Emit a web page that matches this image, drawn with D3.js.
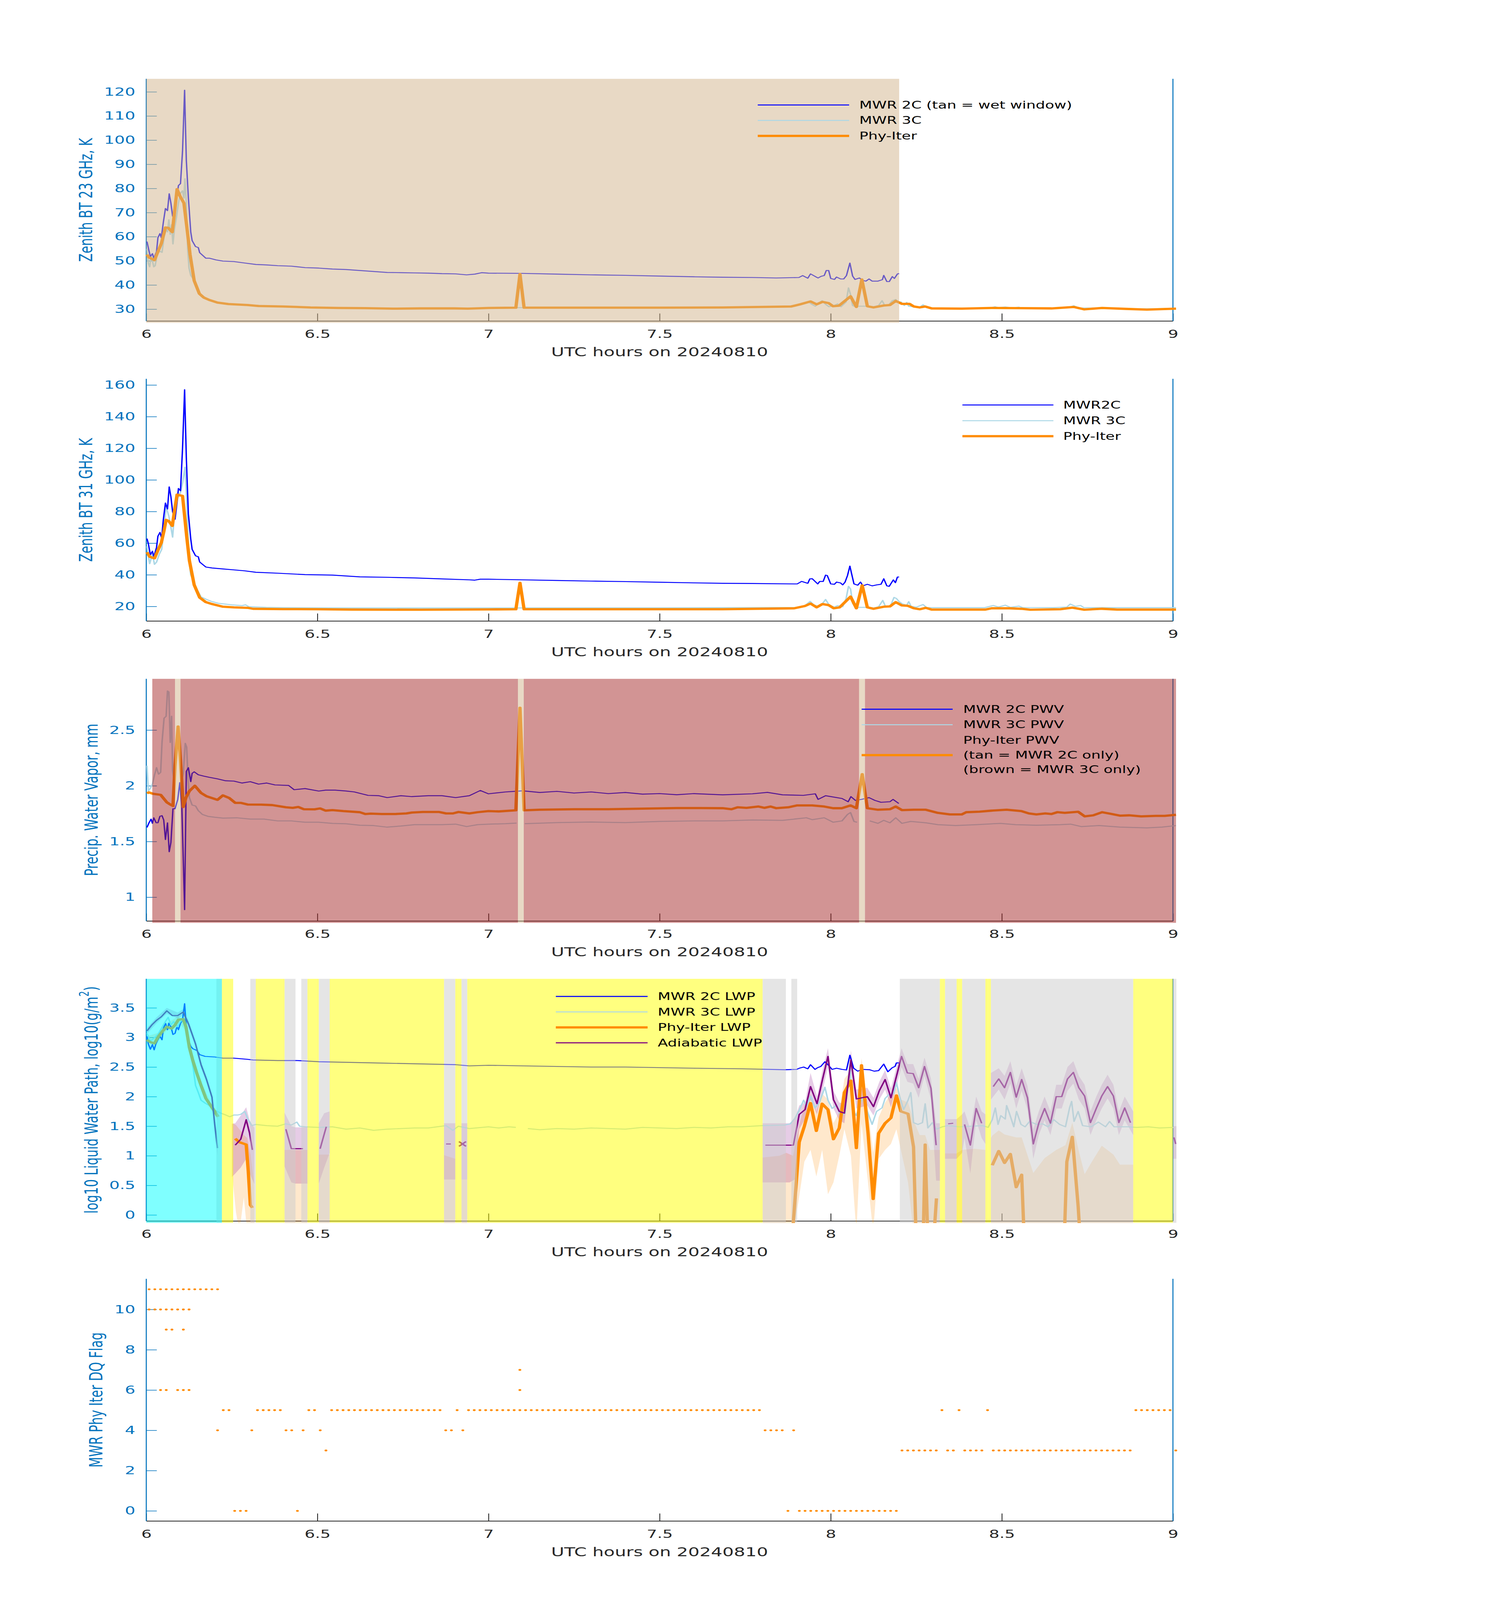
<!DOCTYPE html>
<html>
<head>
<meta charset="utf-8">
<script src="https://cdn.jsdelivr.net/npm/d3@7"></script>
<style>
  html, body { margin: 0; background: #fff; overflow: hidden; }
  svg { display: block; }
  text { font-family: "DejaVu Sans", sans-serif; }
</style>
</head>
<body>
<svg id="chart"></svg>
<script>
// ---------------- data (hours UTC, value) ----------------
// null = gap in the series

// Panel 1: zenith BT 23 GHz, K
var bt23_2c = [[6.002,58.0],[6.008,54.1],[6.012,51.8],[6.018,53.0],[6.022,51.1],[6.030,53.8],[6.034,59.6],[6.040,61.3],[6.044,59.6],[6.050,66.1],[6.056,71.7],[6.062,70.8],[6.067,77.8],[6.072,73.9],[6.077,68.5],[6.082,67.7],[6.088,74.7],[6.094,81.2],[6.100,82.0],[6.106,95.6],[6.112,120.7],[6.117,91.7],[6.123,76.2],[6.130,61.9],[6.134,58.4],[6.144,55.9],[6.152,55.5],[6.156,53.4],[6.174,51.1],[6.184,51.1],[6.204,50.4],[6.224,49.9],[6.256,49.7],[6.288,49.1],[6.320,48.5],[6.352,48.3],[6.384,48.0],[6.424,47.8],[6.464,47.2],[6.504,47.0],[6.544,46.6],[6.584,46.4],[6.624,46.0],[6.664,45.6],[6.704,45.2],[6.744,45.1],[6.784,45.0],[6.824,44.9],[6.864,44.7],[6.904,44.6],[6.936,44.2],[6.960,44.5],[6.980,45.1],[7.000,44.9],[7.100,44.8],[7.200,44.5],[7.300,44.2],[7.400,44.0],[7.500,43.7],[7.600,43.4],[7.684,43.2],[7.771,43.1],[7.841,42.9],[7.907,43.1],[7.918,43.9],[7.933,42.8],[7.941,44.6],[7.955,43.5],[7.963,42.9],[7.972,43.6],[7.981,43.9],[7.987,46.0],[7.994,46.0],[8.000,42.7],[8.011,42.3],[8.017,43.3],[8.029,42.5],[8.038,42.5],[8.046,43.9],[8.056,49.1],[8.064,43.7],[8.071,42.3],[8.084,42.9],[8.093,41.9],[8.103,41.6],[8.112,42.5],[8.121,41.6],[8.138,41.6],[8.151,42.2],[8.155,44.0],[8.164,41.4],[8.171,41.4],[8.180,43.5],[8.186,42.7],[8.195,44.6],[8.200,44.7]]
var bt23_3c = [[6.002,55],[6.006,49],[6.010,47.5],[6.014,52],[6.018,50],[6.022,47.5],[6.026,48],[6.032,53],[6.040,54],[6.046,53.5],[6.052,60],[6.058,63],[6.062,62],[6.066,67],[6.070,61],[6.074,65],[6.078,57],[6.082,63],[6.088,68],[6.094,74],[6.100,78],[6.106,79],[6.110,76],[6.113,84],[6.117,74],[6.121,55],[6.125,47],[6.130,44],[6.135,43],[6.142,41],[6.150,38],[6.160,36],[6.175,34.5],[6.190,33.5],[6.210,32.6],[6.240,32.0],[6.300,31.7],[6.400,31.1],[6.500,30.7],[6.600,30.5],[6.700,30.3],[6.800,30.4],[6.900,30.3],[7.000,30.5],[7.080,30.6],[7.105,30.6],[7.300,30.6],[7.500,30.7],[7.700,30.8],[7.850,31.0],[7.900,31.5],[7.920,32.2],[7.935,33.0],[7.945,32.0],[7.955,31.2],[7.965,32.5],[7.975,33.5],[7.985,32.0],[7.995,31.0],[8.010,31.5],[8.020,32.2],[8.030,31.0],[8.045,33.0],[8.052,38.8],[8.058,36.0],[8.064,31.5],[8.072,31.0],[8.080,31.2],[8.110,31.2],[8.125,31.0],[8.140,31.5],[8.150,33.5],[8.158,31.5],[8.170,31.8],[8.180,33.5],[8.190,34.0],[8.198,32.5],[8.205,33.0],[8.215,31.5],[8.222,32.8],[8.228,31.2],[8.240,31.0],[8.260,30.8],[8.270,31.8],[8.280,30.6],[8.300,30.5],[8.400,30.4],[8.470,30.6],[8.480,31.0],[8.490,30.6],[8.510,30.9],[8.530,30.5],[8.550,30.8],[8.560,30.4],[8.650,30.4],[8.700,30.9],[8.710,31.4],[8.720,30.8],[8.730,30.5],[8.800,30.4],[8.900,30.1],[9.009,30.3]]
var bt23_phy = [[6.002,52.6],[6.008,51.4],[6.024,50.3],[6.034,53.8],[6.044,57.2],[6.056,63.8],[6.064,63.7],[6.076,61.9],[6.090,79.7],[6.098,77.0],[6.110,73.9],[6.118,64.6],[6.128,52.6],[6.140,41.8],[6.155,36.4],[6.168,34.8],[6.184,33.8],[6.208,32.7],[6.240,32.1],[6.296,31.7],[6.328,31.3],[6.400,31.1],[6.480,30.7],[6.560,30.5],[6.640,30.4],[6.720,30.2],[6.800,30.3],[6.900,30.3],[6.940,30.2],[7.000,30.5],[7.080,30.6],[7.092,44.5],[7.104,30.6],[7.300,30.6],[7.500,30.6],[7.684,30.7],[7.885,31.1],[7.911,32.0],[7.941,33.2],[7.959,32.0],[7.976,33.0],[7.994,32.5],[8.007,31.2],[8.024,31.4],[8.058,35.3],[8.075,30.9],[8.091,42.3],[8.107,31.2],[8.125,30.7],[8.155,31.5],[8.173,31.7],[8.190,33.4],[8.208,32.2],[8.230,32.2],[8.243,31.1],[8.260,30.7],[8.276,31.1],[8.295,30.3],[8.383,30.2],[8.470,30.5],[8.557,30.4],[8.645,30.3],[8.710,30.9],[8.741,29.9],[8.793,30.5],[8.863,30.1],[8.924,29.8],[9.009,30.2]]
var wetWindow = [[6.0, 8.2]]

// Panel 2: zenith BT 31 GHz, K
var bt31_2c = [[6.002,62.9],[6.006,59.7],[6.012,52.6],[6.018,54.9],[6.022,51.4],[6.030,57.3],[6.034,64.4],[6.040,66.8],[6.045,63.2],[6.050,75.1],[6.056,85.4],[6.062,81.6],[6.067,95.6],[6.072,89.3],[6.077,79.8],[6.084,75.1],[6.090,85.7],[6.094,94.6],[6.100,93.1],[6.106,120.1],[6.112,157.0],[6.117,114.2],[6.123,78.6],[6.130,62.6],[6.134,56.1],[6.144,52.0],[6.152,51.4],[6.156,48.1],[6.174,44.9],[6.192,44.3],[6.224,43.7],[6.256,43.1],[6.288,42.5],[6.320,41.6],[6.384,41.0],[6.464,40.1],[6.544,39.8],[6.624,38.7],[6.704,38.4],[6.784,38.0],[6.864,37.4],[6.944,36.8],[6.960,36.6],[6.976,37.2],[7.000,37.2],[7.100,36.8],[7.200,36.4],[7.300,36.0],[7.400,35.7],[7.500,35.3],[7.600,34.9],[7.684,34.6],[7.771,34.5],[7.902,34.2],[7.915,35.8],[7.933,34.6],[7.939,37.4],[7.946,37.5],[7.962,34.2],[7.968,35.8],[7.978,35.8],[7.985,39.8],[7.990,39.5],[8.000,34.2],[8.011,34.0],[8.017,35.4],[8.029,34.8],[8.035,33.6],[8.042,35.4],[8.049,39.5],[8.056,45.5],[8.061,40.7],[8.068,34.2],[8.079,33.4],[8.087,35.4],[8.094,33.0],[8.107,34.0],[8.121,33.0],[8.134,33.6],[8.147,34.0],[8.155,37.5],[8.164,33.0],[8.171,32.7],[8.183,36.8],[8.189,35.0],[8.195,38.6],[8.200,38.6]]
var bt31_3c = [[6.002,58],[6.006,52],[6.010,47],[6.014,50],[6.018,53],[6.024,46.6],[6.030,48],[6.038,53],[6.045,56],[6.050,66],[6.055,76],[6.058,84],[6.062,80],[6.066,77],[6.072,70],[6.077,63.8],[6.081,75],[6.088,85],[6.094,90],[6.100,92],[6.106,98],[6.113,108],[6.118,88],[6.122,65],[6.126,47],[6.130,40],[6.140,35],[6.150,30],[6.160,26],[6.175,24.5],[6.190,23.2],[6.210,22.0],[6.250,21.0],[6.280,20.5],[6.290,21.0],[6.300,19.8],[6.350,19.4],[6.400,19.2],[6.500,19.1],[6.600,19.0],[6.800,19.0],[7.000,19.0],[7.300,19.1],[7.500,19.1],[7.684,19.2],[7.900,19.3],[7.925,20.5],[7.940,23.2],[7.950,21.0],[7.965,20.0],[7.975,21.5],[7.985,24.4],[7.995,21.0],[8.010,19.5],[8.020,20.5],[8.035,19.8],[8.045,25.0],[8.052,32.7],[8.058,31.0],[8.064,22.0],[8.072,19.5],[8.080,19.4],[8.110,19.4],[8.125,19.0],[8.140,19.8],[8.152,23.8],[8.160,20.0],[8.175,20.5],[8.185,25.7],[8.192,25.0],[8.200,23.0],[8.210,21.5],[8.222,20.8],[8.228,23.0],[8.235,20.0],[8.250,19.5],[8.270,21.2],[8.280,19.3],[8.300,19.2],[8.450,19.2],[8.475,20.6],[8.490,19.6],[8.510,20.8],[8.525,19.4],[8.550,20.2],[8.560,19.3],[8.650,19.2],[8.690,19.6],[8.700,21.5],[8.715,20.0],[8.730,20.6],[8.740,19.2],[8.850,19.2],[9.009,19.2]]
var bt31_phy = [[6.002,54.3],[6.010,51.4],[6.024,50.4],[6.034,55.5],[6.044,60.3],[6.052,68.0],[6.058,74.7],[6.066,73.9],[6.076,70.9],[6.082,79.8],[6.090,90.7],[6.106,89.9],[6.118,64.4],[6.126,49.0],[6.140,33.6],[6.156,25.6],[6.174,22.7],[6.192,21.5],[6.224,19.8],[6.256,19.4],[6.296,19.1],[6.312,18.5],[6.400,18.3],[6.500,18.2],[6.600,18.0],[6.800,17.9],[7.000,18.1],[7.080,18.2],[7.092,34.9],[7.104,18.2],[7.300,18.2],[7.500,18.2],[7.684,18.2],[7.893,18.8],[7.924,20.2],[7.941,21.8],[7.959,19.4],[7.976,21.5],[7.994,20.8],[8.009,18.8],[8.026,19.4],[8.058,26.2],[8.075,18.8],[8.092,33.3],[8.107,19.4],[8.125,18.5],[8.155,19.8],[8.173,20.0],[8.190,22.7],[8.208,20.6],[8.225,20.4],[8.243,18.8],[8.260,18.2],[8.278,19.1],[8.295,18.0],[8.383,18.0],[8.452,18.0],[8.470,18.8],[8.522,18.8],[8.557,18.5],[8.583,17.9],[8.671,18.2],[8.706,19.2],[8.741,17.9],[8.793,18.5],[8.837,18.0],[9.009,18.0]]

// Panel 3: precipitable water vapor, mm
var pwv_2c = [[6.002,1.626],[6.008,1.668],[6.014,1.701],[6.018,1.663],[6.022,1.713],[6.029,1.668],[6.034,1.668],[6.040,1.727],[6.046,1.732],[6.051,1.693],[6.056,1.517],[6.062,1.668],[6.067,1.408],[6.072,1.492],[6.078,1.794],[6.084,1.794],[6.092,1.878],[6.098,2.029],[6.104,1.810],[6.112,0.888],[6.117,2.129],[6.123,2.163],[6.130,2.037],[6.134,2.112],[6.140,2.126],[6.152,2.099],[6.168,2.087],[6.184,2.076],[6.208,2.062],[6.232,2.045],[6.256,2.042],[6.280,2.025],[6.304,2.037],[6.328,2.015],[6.352,2.025],[6.376,2.008],[6.416,2.003],[6.432,1.965],[6.464,1.975],[6.504,1.953],[6.524,1.961],[6.552,1.961],[6.584,1.953],[6.608,1.945],[6.648,1.914],[6.680,1.911],[6.704,1.894],[6.744,1.911],[6.776,1.903],[6.824,1.911],[6.864,1.911],[6.904,1.894],[6.944,1.911],[6.976,1.958],[7.000,1.928],[7.050,1.945],[7.100,1.955],[7.150,1.940],[7.200,1.950],[7.250,1.935],[7.300,1.945],[7.350,1.930],[7.400,1.940],[7.450,1.925],[7.500,1.930],[7.550,1.920],[7.600,1.930],[7.684,1.919],[7.771,1.928],[7.815,1.941],[7.859,1.919],[7.920,1.914],[7.955,1.928],[7.963,1.878],[7.985,1.911],[8.033,1.886],[8.051,1.857],[8.059,1.903],[8.072,1.869],[8.090,1.878],[8.112,1.894],[8.129,1.869],[8.147,1.852],[8.173,1.857],[8.182,1.878],[8.199,1.841]]
var pwv_3c = [[6.002,2.180],[6.006,1.953],[6.012,1.978],[6.018,2.015],[6.024,2.096],[6.030,2.163],[6.036,2.104],[6.042,2.121],[6.046,2.389],[6.052,2.607],[6.058,2.624],[6.062,2.851],[6.066,2.842],[6.070,2.389],[6.074,2.624],[6.077,2.138],[6.082,2.03],null,[6.104,2.05],[6.108,2.112],[6.114,2.381],[6.118,2.347],[6.122,2.062],[6.126,1.894],[6.134,1.827],[6.144,1.819],[6.152,1.777],[6.164,1.743],[6.180,1.726],[6.200,1.718],[6.224,1.710],[6.264,1.713],[6.304,1.701],[6.344,1.701],[6.384,1.685],[6.424,1.685],[6.464,1.673],[6.504,1.673],[6.544,1.663],[6.584,1.659],[6.624,1.646],[6.664,1.643],[6.704,1.629],[6.744,1.639],[6.784,1.651],[6.824,1.651],[6.864,1.651],[6.904,1.656],[6.936,1.634],[6.968,1.651],[7.000,1.656],[7.050,1.660],[7.082,1.665],null,[7.106,1.660],[7.200,1.670],[7.300,1.675],[7.400,1.670],[7.500,1.680],[7.600,1.685],[7.684,1.685],[7.771,1.693],[7.859,1.690],[7.929,1.713],[7.946,1.696],[7.981,1.713],[8.007,1.673],[8.033,1.685],[8.049,1.743],[8.058,1.760],[8.068,1.680],[8.077,1.673],null,[8.114,1.685],[8.138,1.663],[8.155,1.690],[8.173,1.668],[8.190,1.713],[8.208,1.663],[8.234,1.680],[8.278,1.668],[8.313,1.651],[8.365,1.643],[8.426,1.651],[8.496,1.663],[8.540,1.651],[8.601,1.646],[8.671,1.651],[8.701,1.656],[8.732,1.634],[8.784,1.643],[8.845,1.629],[8.924,1.622],[8.968,1.629],[9.009,1.643]]
var pwv_phy = [[6.002,1.933],[6.008,1.941],[6.020,1.928],[6.042,1.919],[6.060,1.852],[6.068,1.836],[6.078,1.819],[6.084,2.180],[6.093,2.532],[6.100,2.230],[6.108,1.810],[6.116,1.894],[6.126,1.953],[6.142,2.000],[6.160,1.936],[6.176,1.906],[6.208,1.874],[6.224,1.914],[6.242,1.891],[6.260,1.847],[6.276,1.847],[6.296,1.832],[6.336,1.831],[6.368,1.827],[6.408,1.807],[6.428,1.802],[6.444,1.810],[6.460,1.790],[6.492,1.789],[6.508,1.797],[6.524,1.777],[6.544,1.782],[6.576,1.773],[6.624,1.763],[6.640,1.747],[6.656,1.750],[6.688,1.747],[6.728,1.747],[6.760,1.752],[6.776,1.760],[6.808,1.765],[6.856,1.765],[6.876,1.752],[6.896,1.752],[6.912,1.765],[6.944,1.752],[6.968,1.763],[7.000,1.773],[7.030,1.770],[7.080,1.780],[7.092,2.700],[7.104,1.780],[7.150,1.785],[7.250,1.790],[7.350,1.790],[7.450,1.795],[7.550,1.800],[7.620,1.800],[7.684,1.799],[7.710,1.790],[7.728,1.807],[7.754,1.802],[7.789,1.814],[7.806,1.802],[7.824,1.814],[7.841,1.799],[7.876,1.807],[7.902,1.824],[7.946,1.824],[7.981,1.814],[8.007,1.799],[8.033,1.799],[8.058,1.824],[8.075,1.799],[8.092,2.104],[8.107,1.799],[8.138,1.785],[8.173,1.790],[8.190,1.814],[8.208,1.782],[8.243,1.785],[8.278,1.785],[8.313,1.757],[8.348,1.743],[8.383,1.743],[8.396,1.763],[8.435,1.768],[8.470,1.777],[8.514,1.785],[8.557,1.773],[8.579,1.752],[8.601,1.743],[8.627,1.752],[8.645,1.747],[8.662,1.763],[8.684,1.757],[8.723,1.767],[8.742,1.726],[8.767,1.735],[8.793,1.763],[8.819,1.748],[8.845,1.732],[8.872,1.735],[8.907,1.726],[8.950,1.730],[8.976,1.730],[9.009,1.740]]
var pwvTan = [[6.084, 6.100], [7.086, 7.103], [8.083, 8.100]]
var pwvBrown = [[6.0176, 6.084], [6.100, 7.086], [7.103, 8.083], [8.100, 9.009]]

// Panel 4: log10 liquid water path
var lwp_2c = [[6.002,3.02],[6.006,2.89],[6.012,2.80],[6.018,2.88],[6.023,2.79],[6.028,2.89],[6.034,2.96],[6.040,3.02],[6.046,2.96],[6.050,3.15],[6.056,3.24],[6.062,3.13],[6.066,3.24],[6.072,3.18],[6.078,3.05],[6.084,3.07],[6.090,3.19],[6.094,3.13],[6.100,3.24],[6.106,3.30],[6.112,3.57],[6.117,3.18],[6.123,2.96],[6.130,2.85],[6.136,2.81],[6.148,2.78],[6.156,2.71],[6.172,2.68],[6.200,2.67],[6.224,2.65],[6.256,2.65],[6.296,2.63],[6.312,2.62],[6.384,2.61],[6.440,2.61],[6.504,2.59],[6.584,2.58],[6.664,2.57],[6.744,2.56],[6.824,2.55],[6.904,2.54],[6.944,2.52],[7.000,2.53],[7.100,2.52],[7.200,2.51],[7.300,2.50],[7.400,2.50],[7.500,2.49],[7.600,2.48],[7.741,2.47],[7.866,2.455],[7.900,2.46],[7.908,2.48],[7.921,2.50],[7.933,2.47],[7.941,2.54],[7.954,2.46],[7.962,2.49],[7.971,2.51],[7.983,2.59],[7.992,2.54],[8.004,2.46],[8.017,2.48],[8.033,2.46],[8.046,2.45],[8.056,2.70],[8.067,2.48],[8.079,2.43],[8.092,2.46],[8.113,2.455],[8.127,2.43],[8.140,2.44],[8.155,2.55],[8.167,2.42],[8.180,2.49],[8.188,2.51],[8.192,2.57],[8.199,2.57]]
var lwp_3c = [[6.002,3.07],[6.012,2.94],[6.023,2.99],[6.034,3.05],[6.044,3.15],[6.056,3.27],[6.064,3.34],[6.072,3.21],[6.080,3.27],[6.090,3.18],[6.100,3.27],[6.108,3.30],[6.114,3.24],[6.120,3.02],[6.126,2.83],[6.132,2.67],[6.138,2.45],[6.144,2.19],[6.152,2.07],[6.160,1.94],[6.172,1.89],[6.184,1.85],[6.196,1.78],[6.208,1.75],[6.218,1.72],[6.232,1.69],[6.244,1.66],[6.256,1.69],[6.268,1.69],[6.276,1.70],[6.288,1.75],[6.296,1.63],[6.308,1.51],[6.320,1.53],[6.352,1.51],[6.384,1.50],[6.408,1.54],[6.424,1.52],[6.440,1.57],[6.448,1.50],[6.464,1.49],[6.504,1.48],[6.544,1.49],[6.584,1.45],[6.624,1.47],[6.664,1.43],[6.704,1.45],[6.744,1.46],[6.784,1.47],[6.824,1.47],[6.876,1.51],[6.896,1.43],[6.912,1.50],[6.944,1.46],[7.000,1.49],[7.030,1.47],[7.060,1.49],[7.080,1.48],null,[7.115,1.46],[7.150,1.44],[7.200,1.46],[7.250,1.45],[7.300,1.47],[7.350,1.46],[7.400,1.45],[7.450,1.48],[7.500,1.47],[7.550,1.46],[7.600,1.48],[7.650,1.47],[7.700,1.49],[7.741,1.49],[7.799,1.51],[7.866,1.52],[7.882,1.54],[7.895,1.63],[7.908,1.77],[7.921,1.94],[7.929,1.83],[7.941,2.01],[7.954,1.81],[7.967,1.90],[7.983,2.16],[7.992,1.94],[8.004,1.80],[8.017,1.86],[8.029,1.67],[8.042,1.72],[8.056,2.55],[8.063,1.78],[8.075,1.68],[8.092,1.99],[8.109,1.72],[8.121,1.53],[8.134,1.75],[8.150,1.81],[8.159,1.97],[8.171,2.04],[8.184,2.05],[8.192,2.24],[8.201,2.01],[8.213,1.78],[8.226,1.94],[8.234,2.07],[8.242,1.56],[8.255,1.53],[8.268,1.56],[8.276,1.88],[8.284,1.47],[8.297,1.56],[8.309,1.45],[8.326,1.49],[8.343,1.51],[8.376,1.49],[8.410,1.50],[8.443,1.51],[8.460,1.48],[8.472,1.61],[8.481,1.81],[8.489,1.53],[8.497,1.68],[8.510,1.62],[8.514,1.85],[8.522,1.72],[8.535,1.49],[8.543,1.75],[8.556,1.53],[8.568,1.49],[8.581,1.58],[8.602,1.53],[8.619,1.54],[8.635,1.49],[8.652,1.61],[8.669,1.53],[8.686,1.49],[8.698,1.81],[8.704,1.92],[8.711,1.58],[8.723,1.75],[8.736,1.51],[8.761,1.49],[8.782,1.57],[8.803,1.49],[8.815,1.58],[8.828,1.49],[8.844,1.49],[8.869,1.49],[8.894,1.48],[8.928,1.49],[8.961,1.47],[9.003,1.48]]
var lwp_phy = [[6.002,2.96],[6.012,2.92],[6.024,2.90],[6.036,3.02],[6.048,3.11],[6.060,3.18],[6.074,3.15],[6.084,3.21],[6.094,3.30],[6.108,3.31],[6.116,3.18],[6.126,2.83],[6.136,2.61],[6.148,2.39],[6.160,2.19],[6.174,1.97],[6.188,1.85],[6.200,1.75],[6.210,1.66],null,
  [6.260,1.29],[6.272,1.23],[6.292,1.19],[6.298,0.74],[6.304,0.17],[6.310,0.12],null,
  [7.886,-0.5],[7.908,1.23],[7.923,1.50],[7.941,1.89],[7.958,1.42],[7.975,1.88],[7.992,1.78],[8.008,1.28],[8.025,1.47],[8.040,2.07],[8.059,2.27],[8.075,1.13],[8.090,2.53],[8.109,1.39],[8.124,0.27],[8.140,1.38],[8.159,1.55],[8.176,1.64],[8.192,2.02],[8.205,1.75],[8.226,1.71],[8.242,1.15],[8.250,-0.5],[8.270,-0.5],[8.276,1.19],[8.284,-0.5],[8.300,-0.5],[8.309,0.28],null,
  [8.472,0.84],[8.491,1.08],[8.508,0.88],[8.525,1.03],[8.542,0.47],[8.558,0.68],[8.566,-0.5],[8.682,-0.5],[8.690,0.90],[8.706,1.32],[8.723,0.15],[8.730,-0.5]]
var lwp_adi = [[6.002,3.11],[6.016,3.21],[6.030,3.29],[6.044,3.35],[6.060,3.45],[6.076,3.37],[6.092,3.37],[6.108,3.43],[6.124,3.22],[6.144,2.89],[6.160,2.54],[6.176,2.29],[6.192,1.99],[6.200,1.53],[6.208,1.13],null,
  [6.260,1.18],[6.276,1.28],[6.292,1.61],[6.302,1.38],[6.310,1.10],null,
  [6.408,1.45],[6.424,1.12],[6.458,1.12],null,
  [6.508,1.12],[6.526,1.49],null,
  [6.876,1.20],[6.890,1.20],null,
  [7.809,1.18],[7.891,1.18],[7.908,1.70],[7.925,1.78],[7.941,2.17],[7.960,1.88],[7.976,2.29],[7.992,2.68],[8.008,1.95],[8.025,1.75],[8.040,1.72],[8.059,2.62],[8.075,1.96],[8.107,2.00],[8.125,1.83],[8.142,2.10],[8.159,2.29],[8.176,1.98],[8.207,2.68],[8.224,2.40],[8.241,2.39],[8.257,2.15],[8.274,2.51],[8.293,2.14],[8.308,1.18],null,
  [8.343,1.54],[8.358,1.55],null,
  [8.391,1.53],[8.408,1.18],[8.425,1.80],[8.441,1.55],null,
  [8.475,2.17],[8.491,2.30],[8.508,2.15],[8.525,2.41],[8.542,1.99],[8.558,2.29],[8.575,1.98],[8.592,1.20],[8.608,1.55],[8.625,1.80],[8.642,1.55],[8.659,2.00],[8.675,2.00],[8.692,2.30],[8.709,2.41],[8.725,2.15],[8.742,2.01],[8.759,1.56],[8.776,1.80],[8.792,2.01],[8.809,2.17],[8.826,2.01],[8.842,1.56],[8.859,1.81],[8.876,1.56],null,
  [9.003,1.31],[9.008,1.20]]
var lwp_adiSingle = [[6.924, 1.20]]
// uncertainty bands: [time, low, high]
var lwp_adiBand = [[6.002,3.06,3.16],[6.030,3.24,3.34],[6.060,3.40,3.50],[6.092,3.32,3.42],[6.108,3.38,3.48],[6.124,3.17,3.27],[6.144,2.84,2.94],[6.160,2.49,2.59],[6.176,2.24,2.34],[6.192,1.94,2.04],[6.200,1.40,1.66],[6.208,1.00,1.26],null,
  [6.250,0.64,1.54],[6.260,0.70,1.55],[6.276,0.80,1.68],[6.292,0.95,1.82],[6.302,0.70,1.60],[6.316,0.52,1.47],null,
  [6.404,0.82,1.73],[6.424,0.55,1.50],[6.436,0.53,1.48],[6.471,0.53,1.48],null,
  [6.504,0.53,1.55],[6.520,0.80,1.72],[6.536,1.05,1.75],null,
  [6.870,0.60,1.55],[6.903,0.60,1.55],null,
  [6.921,0.60,1.55],[6.938,0.60,1.55],null,
  [7.801,0.55,1.55],[7.880,0.55,1.55],[7.895,0.60,1.62],[7.908,1.45,1.85],[7.925,1.62,1.90],[7.941,1.95,2.40],[7.960,1.70,2.00],[7.976,2.10,2.45],[7.992,2.50,2.82],[8.008,1.80,2.10],[8.025,1.60,1.90],[8.040,1.55,1.88],[8.059,2.45,2.78],[8.075,1.80,2.12],[8.107,1.85,2.15],[8.125,1.68,1.98],[8.142,1.95,2.25],[8.159,2.12,2.45],[8.176,1.82,2.14],[8.207,2.50,2.82],[8.224,2.25,2.55],[8.241,2.22,2.55],[8.257,1.98,2.30],[8.274,2.35,2.66],[8.293,1.95,2.30],[8.308,0.58,1.55],[8.319,0.58,1.55],null,
  [8.334,0.95,1.62],[8.368,0.95,1.62],[8.384,1.05,1.70],[8.391,1.30,1.75],[8.408,0.70,1.45],[8.425,1.60,2.00],[8.441,1.30,1.75],[8.452,1.20,1.70],null,
  [8.468,1.95,2.40],[8.491,2.12,2.48],[8.508,1.95,2.35],[8.525,2.22,2.60],[8.542,1.80,2.18],[8.558,2.10,2.48],[8.575,1.78,2.18],[8.592,0.95,1.45],[8.608,1.35,1.75],[8.625,1.60,2.00],[8.642,1.35,1.75],[8.659,1.80,2.20],[8.675,1.80,2.20],[8.692,2.10,2.50],[8.709,2.22,2.60],[8.725,1.95,2.35],[8.742,1.80,2.20],[8.759,1.35,1.75],[8.776,1.60,2.00],[8.792,1.80,2.20],[8.809,1.97,2.37],[8.826,1.80,2.20],[8.842,1.35,1.75],[8.859,1.60,2.00],[8.884,1.35,1.75],null,
  [9.000,0.95,1.50],[9.010,0.95,1.50]]
var lwp_phyBand = [[6.002,2.90,3.02],[6.036,2.96,3.08],[6.060,3.12,3.24],[6.094,3.24,3.36],[6.116,3.12,3.24],[6.136,2.55,2.67],[6.160,2.13,2.25],[6.188,1.79,1.91],[6.210,1.60,1.72],null,
  [6.252,0.62,1.55],[6.262,0.05,1.52],[6.272,-0.3,1.45],[6.285,0.30,1.35],[6.295,-0.3,1.30],[6.305,-0.3,1.00],[6.316,-0.3,0.50],null,
  [6.404,-0.3,1.10],[6.471,-0.3,1.10],null,
  [6.504,-0.3,1.02],[6.536,-0.3,1.02],null,
  [6.870,-0.3,1.01],[6.903,-0.3,0.95],null,
  [6.921,-0.3,0.60],[6.938,-0.3,0.60],null,
  [7.801,-0.3,0.97],[7.850,-0.3,1.00],[7.870,-0.3,1.05],[7.890,-0.3,1.00],[7.905,0.20,1.45],[7.923,0.90,1.85],[7.941,1.10,2.05],[7.958,0.65,1.75],[7.975,1.10,2.05],[7.992,0.35,1.95],[8.008,0.55,1.55],[8.025,1.00,1.75],[8.040,1.45,2.30],[8.059,1.00,2.45],[8.075,-0.3,1.55],[8.090,1.55,2.65],[8.109,0.55,1.80],[8.124,-0.3,1.05],[8.140,0.95,1.65],[8.159,1.10,1.90],[8.176,1.20,2.05],[8.192,1.45,2.15],[8.205,1.10,1.95],[8.226,0.55,1.90],[8.242,-0.3,1.60],[8.260,-0.3,1.35],[8.276,-0.3,1.35],[8.290,-0.3,1.10],[8.319,-0.3,1.10],null,
  [8.334,-0.3,1.04],[8.368,-0.3,1.04],[8.384,-0.3,1.10],[8.420,-0.3,1.12],[8.452,-0.3,1.10],null,
  [8.468,-0.3,1.30],[8.472,-0.3,1.34],[8.491,-0.3,1.43],[8.508,-0.3,1.36],[8.542,-0.3,1.31],[8.558,-0.3,1.31],[8.592,-0.3,0.71],[8.625,-0.3,0.96],[8.659,-0.3,1.10],[8.686,-0.3,1.18],[8.706,-0.3,1.56],[8.725,-0.3,1.08],[8.742,-0.3,0.69],[8.759,-0.3,0.86],[8.792,-0.3,1.17],[8.826,-0.3,1.02],[8.845,-0.3,0.85],[8.884,-0.3,0.85]]
// retrieval condition shading, [start, end]
var condCyan = [[6.0, 6.221]]
var condYellow = [[6.221,6.254],[6.320,6.404],[6.471,6.504],[6.536,6.870],[6.903,6.921],[6.938,7.801],[8.319,8.334],[8.368,8.384],[8.452,8.468],[8.884,9.0]]
var condGray = [[6.205,6.221],[6.304,6.320],[6.404,6.436],[6.453,6.471],[6.504,6.536],[6.870,6.903],[6.921,6.938],[7.801,7.869],[7.885,7.902],[8.202,8.319],[8.334,8.368],[8.384,8.452],[8.468,8.884],[9.0,9.01]]

// Panel 5: DQ flag per minute (minute 0 = 06:00:30)
var dqFlag = [11,11,11,11,11,11,11,11,11,11,11,11,11,5,5,0,0,0,4,5,5,5,5,5,4,4,0,4,5,5,4,3,
  5,5,5,5,5,5,5,5,5,5,5,5,5,5,5,5,5,5,5,5,4,4,5,4,
  5,5,5,5,5,5,5,5,5,5,5,5,5,5,5,5,5,5,5,5,5,5,5,5,5,5,5,5,5,5,5,5,5,5,5,5,5,5,5,5,5,5,5,5,5,5,5,5,5,5,5,5,
  4,4,4,4,0,4,0,0,0,0,0,0,0,0,0,0,0,0,0,0,0,0,0,0,
  3,3,3,3,3,3,3,5,3,3,5,3,3,3,3,5,3,3,3,3,3,3,3,3,3,3,3,3,3,3,3,3,3,3,3,3,3,3,3,3,3,5,5,5,5,5,5,5,3]
var dqExtra = [[0,10],[1,10],[2,10],[2,6],[3,10],[3,9],[3,6],[4,10],[4,9],[5,10],[5,6],[6,10],[6,9],[6,6],[7,10],[7,6],[12,4],[65,6],[65,7]]

// ---------------- layout ----------------
// drawing coordinates are the 3825 x 6000 figure; the svg is fitted to the window height
var W = 3825, H = 6000
var viewH = Math.min(H, window.innerHeight || H)
var left = 374.5, right = 3003, ph = 908
var tops = [295.6, 1420.6, 2545.6, 3670.6, 4795.6]
var axBlue = "#0072bd", axDark = "#262626"
var cBlue = "#0000ff", cLight = "#add8e6", cOrange = "#ff8c00", cPurple = "#800080"

var svg = d3.select("#chart")
    .attr("width", W).attr("height", viewH)
    .attr("viewBox", "0 0 " + W + " " + H)
    .attr("preserveAspectRatio", "none")
var x = d3.scaleLinear().domain([6, 9]).range([left, right])
var fmt = d3.format("")

function makePanel(k, yDomain, yTicks, yLabel, labelX) {
    var top = tops[k], bottom = top + ph
    var y = d3.scaleLinear().domain(yDomain).range([bottom, top])
    var cid = "clip" + k
    svg.append("clipPath").attr("id", cid).append("rect")
        .attr("x", left - 6).attr("y", top - 6)
        .attr("width", right - left + 40).attr("height", ph + 14)

    var g = svg.append("g")
    var axes = g.append("g")
    var data = g.append("g").attr("clip-path", "url(#" + cid + ")")
    var over = g.append("g")
    var front = g.append("g")

    // x axis, ticks pointing inward
    var xa = axes.append("g")
        .attr("transform", "translate(0," + bottom + ")")
        .call(d3.axisBottom(x).tickValues([6, 6.5, 7, 7.5, 8, 8.5, 9])
            .tickFormat(fmt).tickSizeInner(-28).tickSizeOuter(0).tickPadding(33))
    xa.select(".domain").attr("stroke", axDark).attr("stroke-width", 2.6)
    xa.selectAll(".tick line").attr("stroke", axDark).attr("stroke-width", 2.2)
    xa.selectAll("text").attr("fill", axDark).attr("font-size", 42).attr("font-family", "DejaVu Sans")

    var ya = axes.append("g")
        .attr("transform", "translate(" + left + ",0)")
        .call(d3.axisLeft(y).tickValues(yTicks).tickFormat(fmt)
            .tickSizeInner(-27).tickSizeOuter(0).tickPadding(28))
    ya.select(".domain").attr("stroke", axBlue).attr("stroke-width", 2.6)
        .attr("d", "M0," + top + "V" + bottom)
    ya.selectAll(".tick line").attr("stroke", axBlue).attr("stroke-width", 2.2)
    ya.selectAll("text").attr("fill", axBlue).attr("font-size", 42).attr("font-family", "DejaVu Sans")

    // empty right axis
    axes.append("line").attr("x1", right).attr("x2", right).attr("y1", top).attr("y2", bottom)
        .attr("stroke", axBlue).attr("stroke-width", 2.6)

    var yl = front.append("text")
        .attr("transform", "translate(" + labelX + "," + (top + bottom) / 2 + ") rotate(-90)")
        .attr("text-anchor", "middle").attr("fill", axBlue).attr("font-size", 46)
    if (typeof yLabel === "string") yl.text(yLabel)
    else yLabel(yl)

    front.append("text").attr("x", (left + right) / 2).attr("y", bottom + 132)
        .attr("text-anchor", "middle").attr("fill", axDark).attr("font-size", 46)
        .text("UTC hours on 20240810")

    return { y: y, top: top, bottom: bottom, data: data, over: over, front: front }
}

function drawLine(p, series, color, width) {
    var line = d3.line().defined(function(d) { return d !== null })
        .x(function(d) { return x(d[0]) }).y(function(d) { return p.y(d[1]) })
    p.data.append("path").datum(series).attr("d", line)
        .attr("fill", "none").attr("stroke", color).attr("stroke-width", width)
        .attr("stroke-linejoin", "round").attr("stroke-linecap", "butt")
}

function drawBand(p, series, color, opacity) {
    var area = d3.area().defined(function(d) { return d !== null })
        .x(function(d) { return x(d[0]) })
        .y0(function(d) { return p.y(d[1]) }).y1(function(d) { return p.y(d[2]) })
    p.data.append("path").datum(series).attr("d", area)
        .attr("fill", color).attr("fill-opacity", opacity).attr("stroke", "none")
}

function shade(p, spans, color) {
    p.over.selectAll(null).data(spans).enter().append("rect")
        .attr("x", function(d) { return x(d[0]) })
        .attr("width", function(d) { return x(d[1]) - x(d[0]) })
        .attr("y", p.top).attr("height", p.bottom - p.top + 7)
        .attr("fill", color).attr("fill-opacity", 0.5)
}

function legend(p, x1, x2, tx, rows) {
    rows.forEach(function(r) {
        var yy = p.top + r.dy
        if (r.color) {
            p.front.append("line").attr("x1", x1).attr("x2", x2).attr("y1", yy).attr("y2", yy)
                .attr("stroke", r.color).attr("stroke-width", r.width)
        }
        p.front.append("text").attr("x", tx).attr("y", yy).attr("dy", "0.35em")
            .attr("font-size", 38).attr("fill", "#000").text(r.label)
    })
}

// ---------------- panel 1 ----------------
var p1 = makePanel(0, [25.1, 125.4], d3.range(30, 121, 10), "Zenith BT 23 GHz, K", 236)
drawLine(p1, bt23_3c, cLight, 4)
drawLine(p1, bt23_2c, cBlue, 3.5)
drawLine(p1, bt23_phy, cOrange, 8.5)
shade(p1, wetWindow, "#d2b48c")
legend(p1, 1940, 2174, 2200, [
    { dy: 98, color: cBlue, width: 3.8, label: "MWR 2C (tan = wet window)" },
    { dy: 156, color: cLight, width: 3.8, label: "MWR 3C" },
    { dy: 214, color: cOrange, width: 8.5, label: "Phy-Iter" }
])

// ---------------- panel 2 ----------------
var p2 = makePanel(1, [10.8, 163.9], d3.range(20, 161, 20), "Zenith BT 31 GHz, K", 236)
drawLine(p2, bt31_3c, cLight, 4)
drawLine(p2, bt31_2c, cBlue, 3.5)
drawLine(p2, bt31_phy, cOrange, 8.5)
legend(p2, 2464, 2697, 2722, [
    { dy: 98, color: cBlue, width: 3.8, label: "MWR2C" },
    { dy: 157, color: cLight, width: 3.8, label: "MWR 3C" },
    { dy: 215, color: cOrange, width: 8.5, label: "Phy-Iter" }
])

// ---------------- panel 3 ----------------
var p3 = makePanel(2, [0.787, 2.96], [1, 1.5, 2, 2.5], "Precip. Water Vapor, mm", 250)
drawLine(p3, pwv_3c, cLight, 4)
drawLine(p3, pwv_2c, cBlue, 3.5)
drawLine(p3, pwv_phy, cOrange, 8.5)
shade(p3, pwvBrown, "#a52a2a")
shade(p3, pwvTan, "#d2b48c")
legend(p3, 2206, 2439, 2466, [
    { dy: 114, color: cBlue, width: 3.8, label: "MWR 2C PWV" },
    { dy: 172, color: cLight, width: 3.8, label: "MWR 3C PWV" },
    { dy: 230, color: null, label: "Phy-Iter PWV" },
    { dy: 286, color: cOrange, width: 8.5, label: "(tan = MWR 2C only)" },
    { dy: 340, color: null, label: "(brown = MWR 3C only)" }
])

// ---------------- panel 4 ----------------
var p4 = makePanel(3, [-0.1016, 3.991], [0, 0.5, 1, 1.5, 2, 2.5, 3, 3.5], function(t) {
    t.append("tspan").text("log10 Liquid Water Path, log10(g/m")
    t.append("tspan").attr("font-size", 33).attr("dy", "-0.7em").text("2")
    t.append("tspan").attr("dy", "0.48em").text(")")
}, 250)
drawBand(p4, lwp_phyBand, cOrange, 0.2)
drawBand(p4, lwp_adiBand, cPurple, 0.2)
drawLine(p4, lwp_2c, cBlue, 3.5)
drawLine(p4, lwp_3c, cLight, 4)
drawLine(p4, lwp_phy, cOrange, 8.5)
drawLine(p4, lwp_adi, cPurple, 4)
p4.data.selectAll(null).data(lwp_adiSingle).enter().append("path")
    .attr("d", function(d) {
        var cx = x(d[0]), cy = p4.y(d[1]), s = 9
        return "M" + (cx - s) + "," + (cy - s) + "L" + (cx + s) + "," + (cy + s) +
            "M" + (cx - s) + "," + (cy + s) + "L" + (cx + s) + "," + (cy - s)
    })
    .attr("stroke", cPurple).attr("stroke-width", 5).attr("fill", "none")
shade(p4, condGray, "#cccccc")
shade(p4, condCyan, "#00ffff")
shade(p4, condYellow, "#ffff00")
legend(p4, 1423, 1658, 1684, [
    { dy: 66, color: cBlue, width: 3.8, label: "MWR 2C LWP" },
    { dy: 124, color: cLight, width: 3.8, label: "MWR 3C LWP" },
    { dy: 182, color: cOrange, width: 8.5, label: "Phy-Iter LWP" },
    { dy: 240, color: cPurple, width: 3.8, label: "Adiabatic LWP" }
])

// ---------------- panel 5 ----------------
var p5 = makePanel(4, [-0.5, 11.52], [0, 2, 4, 6, 8, 10], "MWR Phy Iter DQ Flag", 262)
var dqPoints = dqFlag.map(function(f, m) { return [m, f] }).concat(dqExtra)
p5.data.selectAll(null).data(dqPoints).enter().append("circle")
    .attr("cx", function(d) { return x(6 + (d[0] + 0.5) / 60) })
    .attr("cy", function(d) { return p5.y(d[1]) })
    .attr("r", 3.6)
    .attr("fill", cOrange)
</script>
</body>
</html>
